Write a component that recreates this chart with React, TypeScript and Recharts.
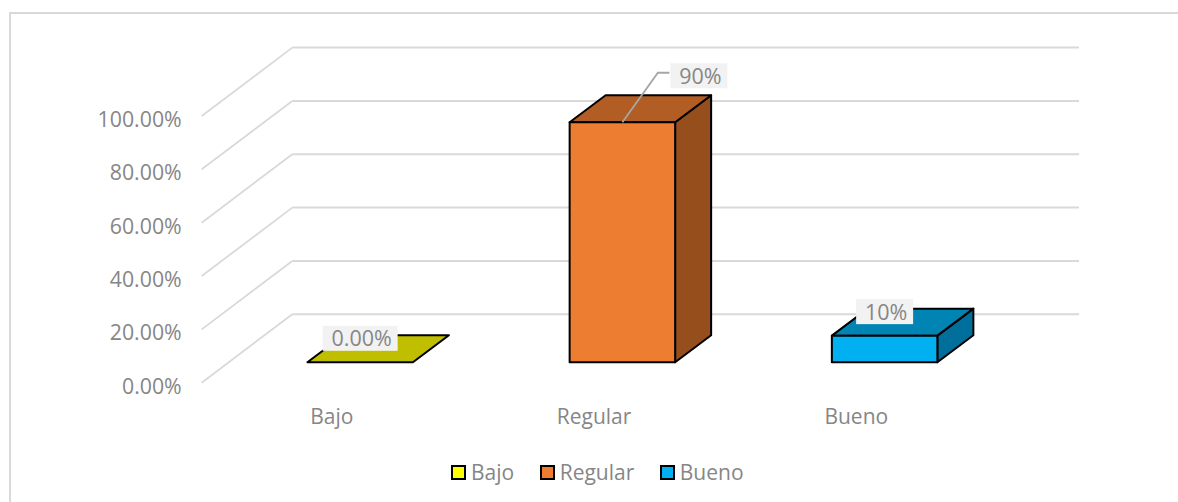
import React from 'react';
import {
  BarChart,
  Bar,
  XAxis,
  YAxis,
  CartesianGrid,
  Legend,
  LabelList,
} from 'recharts';

const categories = ['Bajo', 'Regular', 'Bueno'];
const percentages = [0, 90, 10];
const pointLabels = ['0.00%', '90%', '10%'];
const yTicks = [0, 20, 40, 60, 80, 100];

const frontColors = ['#FFFF00', '#ED7D31', '#00B0F0'];
const topColors = ['#BFBF00', '#B25D24', '#0084B4'];
const sideColors = ['#979700', '#964F1C', '#006F9C'];
const legendColors = frontColors;

const chartData = categories.map((name, i) => ({ name, value: percentages[i] }));

const FONT = '"Open Sans", sans-serif';
const TEXT = '#868686';
const GRID = '#d9d9d9';

// depth of the wall and of the bars, the chart is a faked 3D column
const WALL_DX = 90.6;
const WALL_DY = 68.4;
const BAR_DX = 36;
const BAR_DY = 27;
const BAR_SHIFT_X = 27.7;
const BAR_LIFT = 20.4;

const WallLine = (props: any) => {
  const { x1, y1, x2, index } = props;
  return (
    <g key={`wall-${index}`}>
      <line x1={x1} y1={y1} x2={x1 + WALL_DX} y2={y1 - WALL_DY} stroke={GRID} strokeWidth={1.8} />
      <line x1={x1 + WALL_DX} y1={y1 - WALL_DY} x2={x2 + WALL_DX} y2={y1 - WALL_DY} stroke={GRID} strokeWidth={2} />
    </g>
  );
};

const Column3D = (props: any) => {
  const { x, y, width, height, index } = props;
  const left = x + BAR_SHIFT_X;
  const right = left + width;
  const top = y - BAR_LIFT;
  const bottom = top + height;
  const stroke = { stroke: '#000', strokeWidth: 2, strokeLinejoin: 'round' as const };
  return (
    <g>
      {height > 0 && (
        <path
          d={`M${right},${top} L${right + BAR_DX},${top - BAR_DY} L${right + BAR_DX},${bottom - BAR_DY} L${right},${bottom} Z`}
          fill={sideColors[index]}
          {...stroke}
        />
      )}
      <path
        d={`M${left},${top} L${left + BAR_DX},${top - BAR_DY} L${right + BAR_DX},${top - BAR_DY} L${right},${top} Z`}
        fill={topColors[index]}
        {...stroke}
      />
      {height > 0 && <rect x={left} y={top} width={width} height={height} fill={frontColors[index]} {...stroke} />}
    </g>
  );
};

const PointLabel = (props: any) => {
  const { x, y, width, index } = props;
  const cx = x + BAR_SHIFT_X + width / 2;
  const top = y - BAR_LIFT;
  const text = pointLabels[index];
  const boxW = text.length > 3 ? 75 : 57;
  const boxH = 25;
  // only the tall column has its label pulled out with a leader line
  const pulled = index === 1;
  const lx = pulled ? cx + 76.5 : cx;
  const ly = pulled ? top - 46.5 : top - 24;
  return (
    <g>
      {pulled && (
        <polyline
          points={`${cx},${top} ${cx + 35.5},${top - 49.5} ${cx + 47},${top - 49.5}`}
          fill="none"
          stroke="#a6a6a6"
          strokeWidth={1.8}
        />
      )}
      <rect x={lx - boxW / 2} y={ly - boxH / 2} width={boxW} height={boxH} fill="#f2f2f2" />
      <text x={lx + 1.5} y={ly + 8} textAnchor="middle" fontFamily={FONT} fontSize={21.5} fill={TEXT}>
        {text}
      </text>
    </g>
  );
};

const LegendRow = () => (
  <div style={{ display: 'flex', alignItems: 'center', fontFamily: FONT, fontSize: 21, color: TEXT, lineHeight: '28px' }}>
    {categories.map((name, i) => (
      <div key={name} style={{ display: 'flex', alignItems: 'center', marginRight: 25.5 }}>
        <span
          style={{
            width: 15,
            height: 15,
            boxSizing: 'border-box',
            border: '2px solid #000',
            background: legendColors[i],
            marginRight: 5,
          }}
        />
        <span>{name}</span>
      </div>
    ))}
  </div>
);

export default function App() {
  return (
    <div style={{ position: 'absolute', left: 0, top: 0, width: 1178, height: 502, background: '#fff', overflow: 'hidden' }}>
      <div
        style={{
          position: 'absolute',
          left: 9,
          top: 12,
          width: 1169,
          height: 490,
          boxSizing: 'border-box',
          borderLeft: `2px solid ${GRID}`,
          borderTop: `2px solid ${GRID}`,
        }}
      />
      <div style={{ position: 'absolute', left: 0, top: 0 }}>
        <BarChart
          width={1178}
          height={502}
          data={chartData}
          margin={{ top: 116, right: 189.6, bottom: 89.3, left: 0 }}
        >
          <CartesianGrid vertical={false} horizontal={WallLine} />
          <XAxis
            dataKey="name"
            height={30}
            axisLine={false}
            tickLine={false}
            tickSize={0}
            tickMargin={26}
            tick={{ fill: TEXT, fontSize: 21, fontFamily: FONT, dx: -1 }}
            interval={0}
          />
          <YAxis
            width={201.7}
            domain={[0, 100]}
            ticks={yTicks}
            axisLine={false}
            tickLine={false}
            tickSize={0}
            tickMargin={20}
            tickFormatter={(v: number) => `${v.toFixed(2)}%`}
            tick={{ fill: TEXT, fontSize: 21.3, fontFamily: FONT, dy: 3.5 }}
          />
          <Legend
            layout="horizontal"
            verticalAlign="middle"
            align="center"
            content={<LegendRow />}
            wrapperStyle={{ position: 'absolute', left: 451, top: 458, width: 'auto' }}
          />
          <Bar dataKey="value" barSize={105.5} shape={Column3D} isAnimationActive={false}>
            <LabelList dataKey="value" content={PointLabel} />
          </Bar>
        </BarChart>
      </div>
    </div>
  );
}
